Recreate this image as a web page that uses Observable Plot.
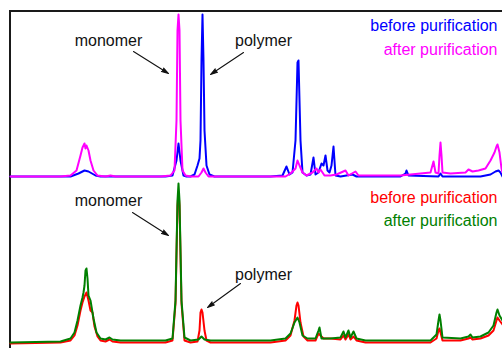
<!DOCTYPE html>
<html>
<head>
<meta charset="utf-8">
<script src="https://cdn.jsdelivr.net/npm/d3@7"></script>
<script src="https://cdn.jsdelivr.net/npm/@observablehq/plot@0.6"></script>
<style>
  body { margin: 0; background: #fff; }
  #wrap { position: relative; width: 502px; height: 348px; overflow: hidden; font-family: "Liberation Sans", Arial, sans-serif; }
  #frame { position: absolute; left: 9px; top: 10px; right: -5px; bottom: -5px; border-left: 2px solid #1a1a1a; border-top: 2px solid #1a1a1a; }
  #top, #bottom { position: absolute; left: 0; }
  #top { top: 0; }
  #bottom { top: 178px; }
</style>
</head>
<body>
<div id="wrap"><div id="frame"></div><div id="top"></div><div id="bottom"></div></div>
<script>
// ---- data (x: channel, y: intensity, arbitrary units) ----
const blueX = [0,60,68,74,78,85,90,155,162,166,168,170,173,176,180,184,187,189,190,191,192,193,194,196,199,204,260,272,276,279,282,285,287,288,290,292,296,300,303,305,308,311,313,315,317,319,321,323,325,330,342,346,390,395,396,398,428,430,432,470,480,485,488,490,492];
const blueY = [0,0,3,6,5,1,0,0,1,16,33,16,1,0,0,2,11,18,36,116,162,116,46,11,2,0,0,1,10,2,4,36,114,116,36,4,1,2,19,2,4,13,11,21,6,4,11,30,1,0,2,0,0,3,6,1,0,3,0,0,2,5,6,4,0];

const magentaX = [0,50,60,66,70,72,74,75,76,78,80,83,87,95,100,105,150,160,164,166,167,168,169,170,172,175,180,188,191,193,195,198,275,280,285,287,289,292,296,302,306,308,310,314,320,326,335,338,345,348,390,420,423,425,428,429,430,431,432,440,455,458,462,468,475,480,484,486,487,489,491,492];
const magentaY = [0,0,1,6,21,29,33,28,31,26,16,6,1,0,1,0,0,1,6,56,146,162,146,56,6,1,0,0,4,8,4,0,0,3,8,16,11,4,1,4,8,4,7,1,1,2,6,1,5,1,1,4,15,4,3,21,34,21,4,3,4,7,5,6,8,16,24,30,32,24,8,4];

const redX = [0,50,60,64,67,70,72,74,76,78,80,82,84,87,90,95,99,102,110,155,162,165,167,168,169,171,174,180,187,189,190,191,192,194,196,200,260,275,280,284,286,287,288,290,293,297,305,308,310,313,320,330,333,335,338,340,343,346,355,420,426,428,429,430,432,450,458,460,462,470,478,483,486,487,489,492];
const redY = [0,1,3,8,18,33,41,47,51,43,33,31,17,7,3,2,4,2,1,1,3,40,138,150,138,40,3,1,2,13,31,34,31,13,3,1,1,3,8,23,38,41,38,21,7,3,3,10,8,5,5,4,8,4,9,4,7,3,1,1,5,13,15,11,3,3,5,6,4,5,8,13,23,26,23,19];

const greenX = [0,50,60,64,67,70,72,73,74,75,76,77,78,80,81,83,86,90,95,99,102,110,155,162,165,167,168,169,171,174,180,188,191,194,200,260,275,280,284,287,289,292,297,305,308,309,311,320,330,333,335,338,340,343,346,355,420,426,428,429,430,432,450,458,460,462,470,478,483,486,487,489,492];
const greenY = [1,2,5,11,23,38,46,51,58,73,75,65,48,43,37,25,11,5,4,6,4,3,3,5,43,143,160,143,43,6,3,4,7,4,3,3,5,10,21,26,21,8,5,5,13,16,5,5,6,12,6,13,6,12,5,3,3,9,23,29,23,6,5,7,9,6,7,11,18,31,34,28,23];

// annotations (data units)
const labelText = ["monomer", "polymer"];
const topLabelX = [98, 253], topLabelY = [136, 136];
const topArrow = [{x1: 123, y1: 125, x2: 158, y2: 103}, {x1: 233, y1: 124, x2: 200, y2: 102}];
const botLabelX = [98, 253], botLabelY = [143, 69];
const botArrow = [{x1: 122, y1: 131, x2: 158, y2: 108}, {x1: 230, y1: 60, x2: 197, y2: 36}];
const legendText = ["before purification", "after purification"];
const topLegendY = [151, 127];
const botLegendY = [146, 123];
const legendX = 487;

const xDomain = [0, 492];

function panel({height, marginTop, marginBottom, yDomain, lines, labelX, labelY, arrows, legendY, legendColors}) {
  return Plot.plot({
    width: 502, height, marginLeft: 10, marginRight: 0, marginTop, marginBottom,
    x: {domain: xDomain, axis: null},
    y: {domain: yDomain, axis: null},
    style: {background: "transparent", fontFamily: "'Liberation Sans', Arial, sans-serif"},
    marks: [
      ...lines.map(([xs, ys, c]) => Plot.line(xs, {x: xs, y: ys, stroke: c, strokeWidth: 2, strokeLinejoin: "round"})),
      Plot.text(labelText, {x: labelX, y: labelY, text: d => d, fontSize: 16, fill: "#111"}),
      Plot.arrow(arrows, {x1: "x1", y1: "y1", x2: "x2", y2: "y2", stroke: "#111", fill: "#111", strokeWidth: 1.1, headLength: 10, headAngle: 32}),
      Plot.text(legendText, {x: [legendX, legendX], y: legendY, text: d => d, fill: legendColors, textAnchor: "end", fontSize: 16})
    ]
  });
}

document.getElementById("top").append(panel({
  height: 178, marginTop: 14, marginBottom: 2, yDomain: [0, 162],
  lines: [[blueX, blueY, "#0000ff"], [magentaX, magentaY, "#ff00ff"]],
  labelX: topLabelX, labelY: topLabelY, arrows: topArrow, legendY: topLegendY,
  legendColors: ["#0000ff", "#ff00ff"]
}));

document.getElementById("bottom").append(panel({
  height: 170, marginTop: 5, marginBottom: 5, yDomain: [0, 160],
  lines: [[redX, redY, "#ff0000"], [greenX, greenY, "#008000"]],
  labelX: botLabelX, labelY: botLabelY, arrows: botArrow, legendY: botLegendY,
  legendColors: ["#ff0000", "#008000"]
}));
</script>
</body>
</html>
